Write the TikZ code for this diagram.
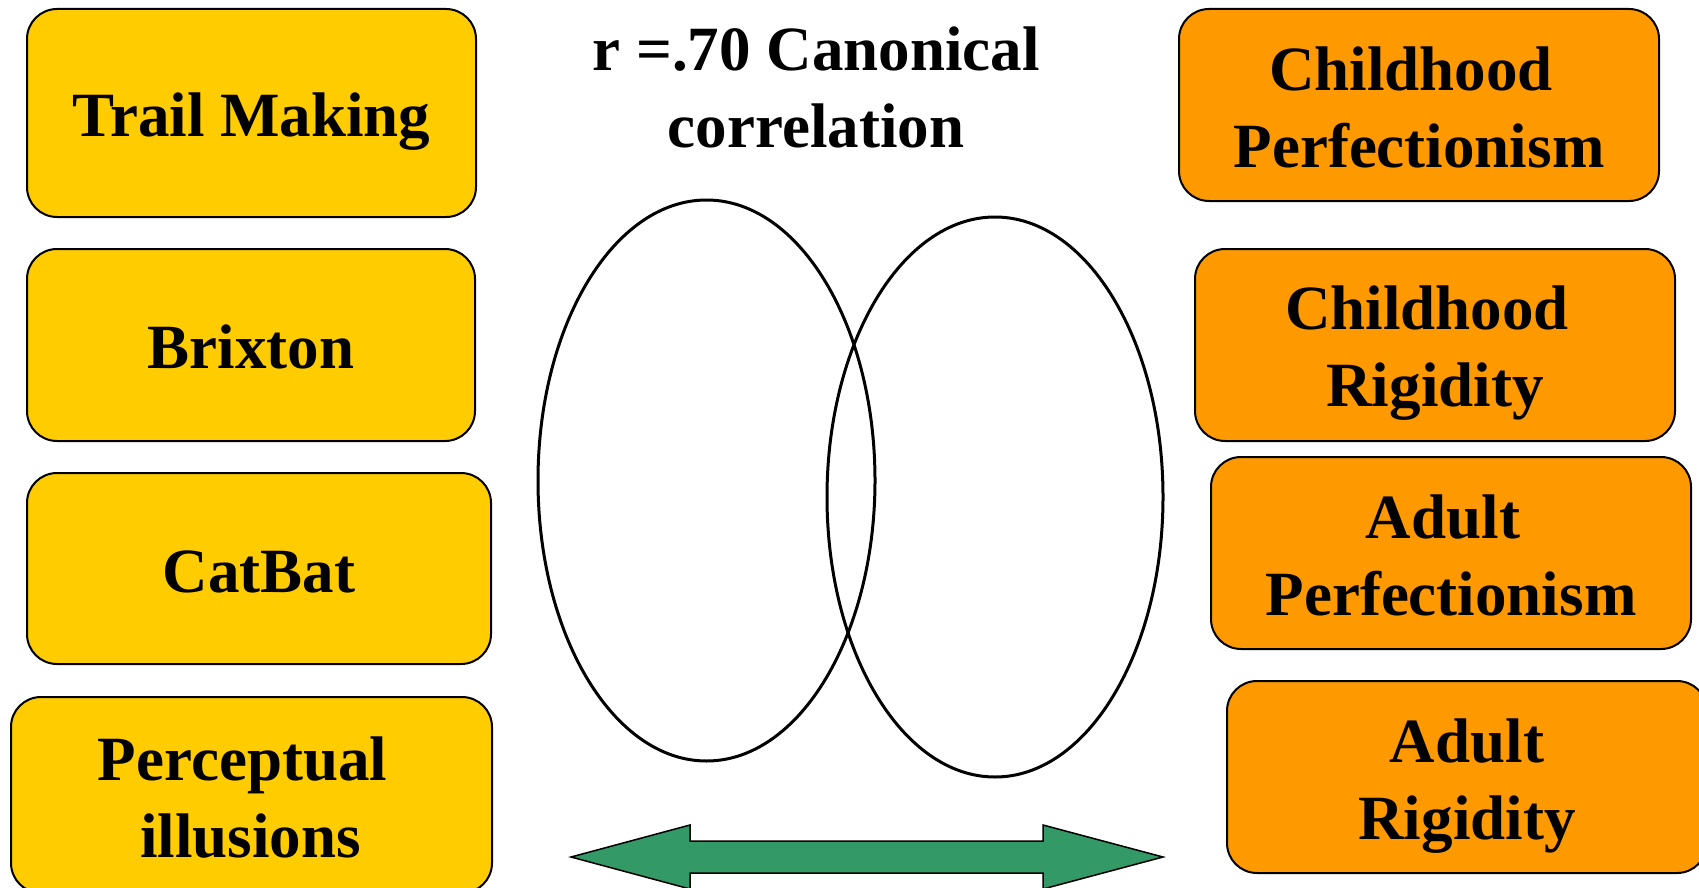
\documentclass[tikz,border=0pt]{standalone}
\usepackage{fontspec}
\setmainfont{Liberation Serif}
\usetikzlibrary{shapes.geometric}
\definecolor{boxyellow}{HTML}{FFCC00}
\definecolor{boxorange}{HTML}{FF9900}
\definecolor{arrowgreen}{HTML}{339966}
\newcommand{\trsp}{\hspace*{16pt}}
\tikzset{
  lbl/.style={font=\fontsize{63}{77}\selectfont\bfseries, align=center, inner sep=0pt},
  vbox/.style={draw=black, line width=2pt, rounded corners=30pt, inner sep=0pt},
  ybox/.style={vbox, fill=boxyellow},
  obox/.style={vbox, fill=boxorange},
  venn/.style={draw=black, line width=3pt, ellipse, inner sep=0pt},
  bigarrow/.style={draw=black, line width=1.5pt, fill=arrowgreen, line join=miter}
}
\begin{document}
\begin{tikzpicture}[x=1pt,y=1pt]
\useasboundingbox (0,0) rectangle (1699,-888);
\clip (0,0) rectangle (1699,-888);
% left boxes
\node[ybox, minimum width=449pt, minimum height=208pt] (tm) at (251.5,-113) {};
\node[ybox, minimum width=448pt, minimum height=192pt] (bx) at (251,-345) {};
\node[ybox, minimum width=464pt, minimum height=191pt] (cb) at (259,-568.5) {};
\node[ybox, minimum width=481pt, minimum height=196pt] (pi) at (251.5,-795) {};
\node[lbl] (tmt) at ([yshift=-9pt]tm.center) {Trail Making};
\node[lbl] (bxt) at ([yshift=-2pt]bx.center) {Brixton};
\node[lbl] (cbt) at ([yshift=-3pt]cb.center) {CatBat};
\node[lbl] (pit) at ([xshift=-1pt,yshift=-3pt]pi.center) {Perceptual\trsp\\illusions};
% right boxes
\node[obox, minimum width=480pt, minimum height=192pt] (cp) at (1419,-105) {};
\node[obox, minimum width=480pt, minimum height=192pt] (cr) at (1435,-345) {};
\node[obox, minimum width=480pt, minimum height=192pt] (ap) at (1451,-553) {};
\node[obox, minimum width=480pt, minimum height=192pt] (ar) at (1467,-777) {};
\node[lbl] (cpt) at ([yshift=-2pt]cp.center) {Childhood\trsp\\Perfectionism};
\node[lbl] (crt) at ([yshift=-8pt]cr.center) {Childhood\trsp\\Rigidity};
\node[lbl] (apt) at ([yshift=-2pt]ap.center) {Adult\trsp\\Perfectionism};
\node[lbl] (art) at ([yshift=-9pt]ar.center) {Adult\\Rigidity};
% title
\node[lbl] (title) at (816,-87.5) {r =.70 Canonical\\correlation};
% ellipses
\node[venn, minimum width=337pt, minimum height=561pt] (e1) at (706.5,-480.5) {};
\node[venn, minimum width=336pt, minimum height=560pt] (e2) at (995,-497) {};
% double arrow
\draw[bigarrow] (571,-857) -- (690,-825) -- (690,-841) -- (1043,-841) -- (1043,-825)
  -- (1163,-857) -- (1043,-889) -- (1043,-873) -- (690,-873) -- (690,-889) -- cycle;
\end{tikzpicture}
\end{document}
